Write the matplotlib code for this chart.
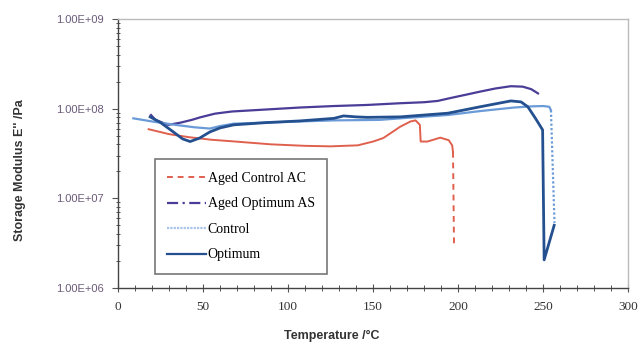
import numpy as np
import matplotlib.pyplot as plt
from matplotlib.lines import Line2D
from matplotlib.ticker import FixedLocator, LogLocator, NullFormatter

# Aged Control AC (red, dashed)
t_ac = [18, 30, 42, 55, 69, 90, 110, 125, 141, 150, 156, 162, 166, 172, 175, 177.5,
        178, 182, 189.5, 194.5, 196.5, 197, 197.6]
e_ac = [5.9e7, 5.2e7, 4.8e7, 4.5e7, 4.3e7, 4.0e7, 3.85e7, 3.8e7, 3.9e7, 4.3e7, 4.7e7,
        5.6e7, 6.3e7, 7.2e7, 7.4e7, 6.6e7, 4.3e7, 4.3e7, 4.75e7, 4.45e7, 3.9e7, 3.3e7, 3.0e6]

# Aged Optimum AS (purple, dash-dot)
t_as = [19.4, 22, 29.5, 37, 43.4, 48.3, 57, 67, 87.6, 107, 127, 146.5, 166, 180, 188,
        196, 206, 213, 222, 231, 238, 243, 247]
e_as = [8.5e7, 7.5e7, 6.6e7, 7.0e7, 7.5e7, 8.0e7, 8.8e7, 9.3e7, 9.8e7, 1.03e8, 1.07e8,
        1.1e8, 1.15e8, 1.18e8, 1.22e8, 1.32e8, 1.45e8, 1.55e8, 1.68e8, 1.78e8, 1.76e8,
        1.65e8, 1.48e8]

# Control (light blue, dotted)
t_c = [9, 20, 33.6, 45, 54, 60, 68, 87, 107, 127, 154, 166, 194, 213, 233, 243, 250,
       253.6, 254.6, 256.7]
e_c = [7.8e7, 7.2e7, 6.6e7, 6.2e7, 6.0e7, 6.4e7, 6.8e7, 7.0e7, 7.2e7, 7.4e7, 7.5e7,
       7.8e7, 8.5e7, 9.4e7, 1.03e8, 1.06e8, 1.07e8, 1.05e8, 9.6e7, 5.3e6]

# Optimum (dark blue, solid)
t_o = [18.9, 25, 32, 38, 42.4, 48, 54, 60, 68, 87.6, 107, 127, 132.6, 140, 146.5, 166,
       194, 213, 231, 237, 241, 245.5, 249.7, 250.6, 256.5]
e_o = [8.1e7, 7.0e7, 5.6e7, 4.6e7, 4.3e7, 4.7e7, 5.5e7, 6.1e7, 6.6e7, 7.0e7, 7.3e7,
       7.8e7, 8.3e7, 8.1e7, 8.0e7, 8.1e7, 8.9e7, 1.05e8, 1.22e8, 1.19e8, 1.05e8, 7.8e7,
       5.8e7, 2.06e6, 5.0e6]

labels = ["Aged Control AC", "Aged Optimum AS", "Control", "Optimum"]
x_ticks = [0, 50, 100, 150, 200, 250, 300]
y_ticks = [1e6, 1e7, 1e8, 1e9]
y_tick_labels = ["1.00E+06", "1.00E+07", "1.00E+08", "1.00E+09"]

c_ac = "#e0604e"
c_as = "#4a3d98"
c_c = "#6a9bd8"
c_o = "#24508f"

fig = plt.figure(figsize=(6.39, 3.46), dpi=100)
ax = fig.add_axes([0.1847, 0.1676, 0.7983, 0.7775])

# dense data in the original looks solid; only the final drops show the dash style
ax.plot(t_ac[:-1], e_ac[:-1], color=c_ac, lw=1.4)
ax.plot(t_ac[-2:], e_ac[-2:], color=c_ac, lw=1.4, ls=(0, (3, 2.5)))
ax.plot(t_as, e_as, color=c_as, lw=1.6)
ax.plot(t_c[:-1], e_c[:-1], color=c_c, lw=1.6)
ax.plot(t_c[-2:], e_c[-2:], color=c_c, lw=1.6, ls=(0, (1, 1)))
ax.plot(t_o, e_o, color=c_o, lw=2.0)

ax.set_yscale("log")
ax.set_xlim(0, 300)
ax.set_ylim(1e6, 1e9)

ax.xaxis.set_major_locator(FixedLocator(x_ticks))
ax.xaxis.set_minor_locator(FixedLocator(np.arange(0, 301, 10)))
ax.set_xticklabels([str(v) for v in x_ticks], family="Liberation Serif",
                   fontsize=9.5, color="#333333")
ax.yaxis.set_major_locator(FixedLocator(y_ticks))
ax.yaxis.set_minor_locator(LogLocator(base=10, subs=np.arange(2, 10)))
ax.yaxis.set_minor_formatter(NullFormatter())
ax.set_yticklabels(y_tick_labels, family="Liberation Sans", fontsize=8,
                   color="#6b5a78")

ax.tick_params(axis="x", which="major", direction="inout", length=6, width=0.8,
               color="#555555", pad=6)
ax.tick_params(axis="x", which="minor", direction="inout", length=4, width=0.7,
               color="#555555")
ax.tick_params(axis="y", which="major", direction="out", length=4, width=0.8,
               color="#555555", pad=6)
ax.tick_params(axis="y", which="minor", direction="inout", length=3, width=0.7,
               color="#555555")

for s in ["left", "bottom"]:
    ax.spines[s].set_color("#444444")
    ax.spines[s].set_linewidth(1.0)
for s in ["top", "right"]:
    ax.spines[s].set_color("#bbbbbb")
    ax.spines[s].set_linewidth(1.0)

# axis titles placed where the original puts them
fig.text(332 / 639, 1 - 336 / 346, "Temperature /°C", family="Liberation Sans",
         fontweight="bold", fontsize=9, color="#333333", ha="center", va="center")
fig.text(20 / 639, 1 - 170 / 346, "Storage Modulus E'' /Pa", family="Liberation Sans",
         fontweight="bold", fontsize=9, color="#333333", ha="center", va="center",
         rotation=90)

handles = [
    Line2D([], [], color=c_ac, lw=1.4, ls=(0, (3, 2.5))),
    Line2D([], [], color=c_as, lw=1.6, ls=(0, (5, 2, 1, 2))),
    Line2D([], [], color="#a9c4ea", lw=1.6, ls=(0, (1, 0.5))),
    Line2D([], [], color=c_o, lw=1.6),
]
leg = ax.legend(handles, labels, loc="upper left", bbox_to_anchor=(0.072, 0.478),
                prop={"family": "Liberation Serif", "size": 10},
                frameon=True, fancybox=False, edgecolor="#555555",
                handlelength=2.8, handletextpad=0.1, labelspacing=0.9,
                borderpad=0.9, borderaxespad=0)
leg.get_frame().set_linewidth(1.2)

fig.savefig("out.png", dpi=100)
